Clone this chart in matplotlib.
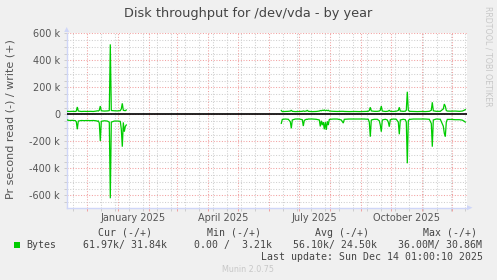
import matplotlib
matplotlib.use('Agg')
import matplotlib.pyplot as plt
import matplotlib.dates as mdates
from matplotlib.ticker import MultipleLocator, FuncFormatter, FixedLocator
from matplotlib.patches import Polygon, Rectangle
import datetime as dt

# ---------------- data (k bytes/s), day offsets from 2024-12-01 ----------------
base_date = dt.datetime(2024, 12, 1)

seg1_day = [-20, -18, -15, -12, -11, -10, -9, -6, -3, 0, 3, 6, 9, 10, 11, 12, 13, 14,
            17, 20, 22, 23, 24, 27, 30, 33, 34, 35, 36, 37, 38, 39]
seg1_write = [22, 21, 22, 21, 24, 54, 24, 21, 22, 21, 22, 21, 24, 26, 24, 30, 61, 26,
              24, 25, 27, 518, 28, 26, 25, 27, 40, 81, 30, 28, 27, 32]
seg1_read = [42, 46, 45, 47, 55, 111, 50, 46, 47, 46, 47, 46, 48, 52, 48, 65, 198, 52,
             48, 50, 58, 622, 58, 50, 50, 52, 110, 240, 60, 129, 90, 79]

seg2_day = [194, 195, 198, 201, 203, 204, 205, 208, 212, 215, 216, 217, 219, 220, 221,
            225, 229, 232, 233, 234, 235, 236, 237, 238, 239, 240, 241, 242, 246, 250,
            254, 256, 257, 262, 267, 272, 277, 281, 282, 283, 284, 287, 290, 292, 293,
            294, 295, 298, 300, 301, 302, 303, 306, 309, 311, 312, 313, 316, 318, 319,
            320, 321, 322, 326, 330, 334, 338, 342, 344, 345, 346, 349, 353, 356, 357,
            358, 359, 360, 364, 368, 372, 375, 377, 378]
seg2_write = [28, 20, 21, 22, 24, 30, 22, 20, 21, 22, 25, 22, 24, 30, 22,
              20, 21, 24, 28, 26, 30, 28, 32, 26, 30, 27, 30, 24, 22, 21,
              22, 22, 21, 20, 21, 20, 21, 22, 28, 52, 25, 22, 22, 24, 30,
              61, 24, 21, 22, 24, 30, 22, 21, 23, 28, 52, 24, 22, 23, 30,
              167, 30, 22, 21, 20, 21, 20, 22, 30, 89, 26, 22, 22, 40, 76,
              60, 28, 24, 23, 24, 22, 24, 30, 35]
seg2_read = [67, 38, 35, 37, 55, 104, 42, 35, 35, 40, 87, 45, 37, 38, 35,
             35, 37, 42, 90, 48, 80, 58, 111, 58, 115, 52, 80, 38, 35, 35,
             42, 65, 37, 35, 35, 35, 35, 37, 58, 166, 42, 37, 37, 48, 80,
             129, 42, 37, 42, 58, 92, 40, 35, 37, 58, 148, 42, 37, 40, 58,
             363, 48, 38, 35, 35, 35, 35, 37, 68, 240, 42, 35, 37, 88, 140,
             166, 58, 38, 38, 40, 40, 43, 52, 58]

month_labels = ["January 2025", "April 2025", "July 2025", "October 2025"]
label_month_dates = [dt.datetime(2025, 1, 16), dt.datetime(2025, 4, 16),
                     dt.datetime(2025, 7, 16), dt.datetime(2025, 10, 16)]

title = "Disk throughput for /dev/vda - by year"
ylabel = "Pr second read (-) / write (+)"
legend_headers = ["Cur (-/+)", "Min (-/+)", "Avg (-/+)", "Max (-/+)"]
legend_values = ["61.97k/ 31.84k", "  0.00 /  3.21k", "56.10k/ 24.50k", "36.00M/ 30.86M"]
last_update = "Last update: Sun Dec 14 01:00:10 2025"

# ---------------- figure ----------------
W, H = 497, 280
fig = plt.figure(figsize=(W / 100, H / 100), dpi=100, facecolor='#F0F0F0')


def fx(px):
    return px / W


def fy(py):
    return 1 - py / H


L, R, T, B = 66.7, 467.0, 32.5, 207.7
ax = fig.add_axes([fx(L), fy(B), fx(R) - fx(L), fy(T) - fy(B)])
ax.set_facecolor('white')

green = '#00CC00'
txt = '#555555'


def to_dates(days):
    return [base_date + dt.timedelta(days=d) for d in days]


for days, w, r in [(seg1_day, seg1_write, seg1_read), (seg2_day, seg2_write, seg2_read)]:
    xs = to_dates(days)
    ax.plot(xs, [v * 1000 for v in w], color=green, lw=0.9, zorder=5, solid_joinstyle='miter')
    ax.plot(xs, [-v * 1000 for v in r], color=green, lw=0.9, zorder=5, solid_joinstyle='miter')

ax.axhline(0, color='black', lw=1.2, zorder=4)

ax.set_xlim(base_date - dt.timedelta(days=20.6), base_date + dt.timedelta(days=365 + 14.7))
ax.set_ylim(-692000, 606000)

# grid
ax.yaxis.set_major_locator(MultipleLocator(200000))
ax.yaxis.set_minor_locator(MultipleLocator(50000))
ax.yaxis.set_major_formatter(FuncFormatter(lambda v, p: '0' if abs(v) < 1 else f'{int(round(v / 1000))} k'))
ax.xaxis.set_major_locator(mdates.MonthLocator())
minor_x = [mdates.date2num(dt.datetime(2024, 11, 17) + dt.timedelta(days=14 * k)) for k in range(30)]
ax.xaxis.set_minor_locator(FixedLocator(minor_x))
ax.xaxis.set_major_formatter(FuncFormatter(lambda v, p: ''))

ax.grid(which='minor', color='#CFCFCF', lw=0.75, linestyle=(0, (1, 1.6)), zorder=1)
ax.grid(which='major', color='#F2A0A0', lw=0.75, linestyle=(0, (1, 1.6)), zorder=2)
ax.set_axisbelow(True)

for s in ['top', 'right']:
    ax.spines[s].set_visible(False)
for s in ['left', 'bottom']:
    ax.spines[s].set_color('#CFD6F8')
    ax.spines[s].set_linewidth(1.0)

ax.tick_params(axis='y', which='major', length=2, width=0.7, color='#CCCCCC', pad=2.8,
               labelsize=7, labelcolor=txt)
ax.tick_params(axis='y', which='minor', length=2, width=0.7, color='#CCCCCC')
ax.tick_params(axis='x', which='major', length=2.5, width=0.7, color='#F2A0A0', labelsize=7)
ax.tick_params(axis='x', which='minor', length=2.5, width=0.7, color='#CCCCCC')

for lab, d in zip(month_labels, label_month_dates):
    ax.text(mdates.date2num(d), 0, lab, transform=ax.get_xaxis_transform(),
            ha='center', va='baseline', fontsize=7, color=txt)
# move month labels to pixel baseline 221
for t in ax.texts:
    t.set_y(-(221 - B) / (B - T))

# arrows
fig.patches.append(Polygon([[L - 2.5, H - 32], [L + 2.5, H - 32], [L, H - 27]], closed=True,
                           transform=None, facecolor='#CFD6F8', edgecolor='none'))
fig.patches.append(Polygon([[R, H - B + 2.5], [R, H - B - 2.5], [R + 5.5, H - B]], closed=True,
                           transform=None, facecolor='#CFD6F8', edgecolor='none'))

# texts
fig.text(fx(248), fy(17.3), title, ha='center', va='baseline', fontsize=9.3, color='#444444')
fig.text(fx(11), fy(119), ylabel, ha='center', va='center', rotation=90, fontsize=8, color=txt)
fig.text(fx(488), fy(56), "RRDTOOL / TOBI OETIKER", ha='center', va='center', rotation=270,
         fontsize=5.7, color='#C8C8C8')
fig.text(fx(248.5), fy(271.5), "Munin 2.0.75", ha='center', va='baseline', fontsize=5.8,
         color='#C8C8C8')

mono = dict(family='DejaVu Sans Mono', fontsize=7.1, color='#444444', va='baseline')
for hdr, x in zip(legend_headers, [98.3, 206.7, 315.0, 423.3]):
    fig.text(fx(x), fy(235.7), hdr, ha='left', **mono)
fig.text(fx(26.5), fy(247.7), "Bytes", ha='left', **mono)
for val, x in zip(legend_values, [82.7, 182.1, 293.3, 397.7]):
    fig.text(fx(x), fy(247.7), val, ha='left', **mono)
fig.text(fx(482.7), fy(260), last_update, ha='right', **mono)
fig.patches.append(Rectangle((14, H - 248.3), 6, 6.6, transform=None, facecolor=green,
                             edgecolor='none'))

fig.savefig('out.png', dpi=100, facecolor='#F0F0F0')
